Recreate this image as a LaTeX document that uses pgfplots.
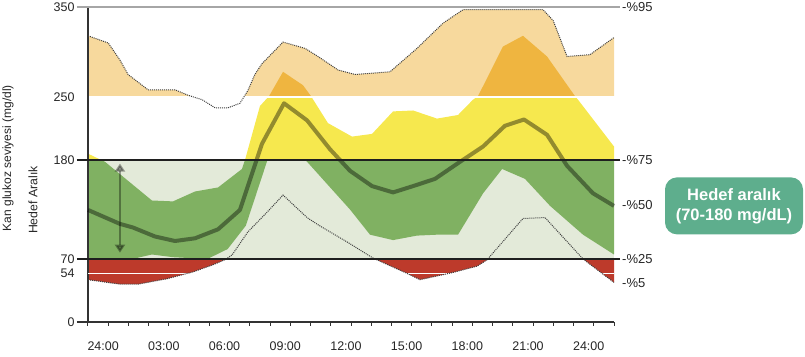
\documentclass[border=0pt]{standalone}
\usepackage{fontspec}
\setmainfont{Liberation Sans}
\usepackage{pgfplots}
\usepackage{pgfplotstable}
\pgfplotsset{compat=1.18}
\usepgfplotslibrary{fillbetween}
\usetikzlibrary{arrows.meta}

\definecolor{lorange}{HTML}{F7D99D}
\definecolor{dorange}{HTML}{EFB540}
\definecolor{yel}{HTML}{F6E84E}
\definecolor{lgreen}{HTML}{E3EAD9}
\definecolor{grn}{HTML}{80B162}
\definecolor{rd}{HTML}{BD3A2B}
\definecolor{boxgreen}{HTML}{5EAE8D}

\pgfplotstableread{
x y
0 318
1.0 310
1.58 291
1.98 275
2.97 258
4.3 258
4.94 252
5.64 247
6.28 238
6.92 238
7.51 243
7.9 257
8.25 275
8.6 287
9.64 311
10.73 304
11.37 295
12.36 280
13.2 275
14.93 278
16.26 304
17.55 332
18.54 347
22.49 347
22.99 335
23.68 295
24.81 297
26 316
}\pninetyfive

\pgfplotstableread{
x y
0 187
0.84 178
3.16 135
4.2 134
5.29 145
6.43 149.5
7.61 170
7.76 180
8.5 240
8.95 251
9.64 278
10.63 263
11.02 251
11.86 221
13.05 206
14.04 209
15.08 234
16.07 235
17.25 226
18.29 230
19.03 247
19.28 251
20.51 306
21.5 318
22.69 295
24.07 251
24.22 247
26 195
}\pseventyfive

\pgfplotstableread{
x y
0 124.5
1.58 109
2.22 105
3.31 95
4.3 90
5.29 93
6.43 103
7.51 124.5
8.6 198
9.69 243
10.83 224
11.96 192
12.95 168
14.04 151
15.08 144
16.07 151
17.15 159
18.39 178
19.53 195
20.61 218
21.55 225
22.69 208
23.68 173.5
24.96 143
26 129
}\pfifty

\pgfplotstableread{
x y
0 66
2.0 69
3.16 75
4.2 72
5.9 70
6.9 81
7.8 107
8.9 182
9.64 196
10.3 188
10.83 178
12.95 125
13.94 97
15.08 91
16.26 96
17.25 97
18.29 97
19.53 143
20.47 170
21.6 159
22.84 129
24.47 97
26 75
}\ptwentyfive

\pgfplotstableread{
x y
0 47
1.58 42
2.47 42
3.9 48
5.19 55.6
6.18 63.6
6.77 69.2
7.12 74.4
7.9 100
8.85 122
9.64 141
10.83 116
11.37 108
12.95 87
14.09 71
14.29 69
15.77 54
16.41 47
18.04 55
19.23 62
19.72 69
21.5 115
22.59 116
24.47 70
26 44
}\pfive

\pgfplotsset{band/.style={width=526pt, scale only axis, xmin=0, xmax=26, hide axis, anchor=south west}}

\begin{document}
\begin{tikzpicture}
% ---- target range 70-180: background and 25-75 band
\begin{axis}[band, ymin=70, ymax=180, height=99pt, at={(0,63pt)}]
\addplot[draw=none, name path=alo] coordinates {(0,60) (26,60)};
\addplot[draw=none, name path=ahi] coordinates {(0,190) (26,190)};
\addplot[draw=none, name path=a75] table {\pseventyfive};
\addplot[draw=none, name path=a25] table {\ptwentyfive};
\addplot[fill=lgreen, draw=none] fill between[of=ahi and alo];
\addplot[fill=grn, draw=none] fill between[of=a75 and a25];
\end{axis}
% ---- band: above 250
\begin{axis}[band, ymin=251.5, ymax=350, height=88.65pt, at={(0,226.35pt)}]
\addplot[draw=none, name path=b95] table {\pninetyfive};
\addplot[draw=none, name path=b75] table {\pseventyfive};
\addplot[draw=none, name path=b250] coordinates {(0,250) (26,250)};
\addplot[fill=lorange, draw=none] fill between[of=b95 and b250];
\addplot[fill=dorange, draw=none] fill between[of=b75 and b250];
\end{axis}
% ---- band: 180-250
\begin{axis}[band, ymin=180, ymax=248.5, height=61.65pt, at={(0,162pt)}]
\addplot[draw=none, name path=c75] table {\pseventyfive};
\addplot[draw=none, name path=c180] coordinates {(0,180) (26,180)};
\addplot[fill=yel, draw=none] fill between[of=c75 and c180];
\end{axis}
% ---- band: below 70
\begin{axis}[band, ymin=0, ymax=68.5, height=61.65pt, at={(0,0)}]
\addplot[draw=none, name path=d5] table {\pfive};
\addplot[draw=none, name path=d70] coordinates {(0,70) (26,70)};
\addplot[fill=rd, draw=none] fill between[of=d5 and d70];
\end{axis}

% ---- main axis
\begin{axis}[
  at={(0,0)}, anchor=south west,
  width=526pt, height=315pt, scale only axis,
  xmin=0, xmax=26, ymin=0, ymax=350,
  clip=false,
  axis lines*=left,
  axis line style={black!80, line width=1.2pt},
  xtick={0,...,26},
  xticklabels={24:00,,,03:00,,,06:00,,,09:00,,,12:00,,,15:00,,,18:00,,,21:00,,,24:00,,},
  xticklabel style={anchor=north west, xshift=-4pt, yshift=-12pt},
  ytick={0,54,70,180,250,350},
  ytick style={draw=none},
  yticklabel style={xshift=-6pt},
  xtick style={black!80, line width=1pt},
  tick align=outside,
  major tick length=4pt,
  tick label style={font=\fontsize{12.5}{14}\selectfont, text=black!85},
  /pgf/number format/assume math mode=true,
]
\addplot[white, line width=1.3pt] coordinates {(0,54) (26,54)};

% percentile lines
\addplot[black!75, densely dotted, line width=1pt] table {\pninetyfive};
\addplot[black!75, densely dotted, line width=1pt] table {\pfive};
\addplot[black, opacity=0.4, line width=4pt, line join=round] table {\pfifty};
\addplot[black, opacity=0.35, line width=2.5pt, {Triangle[width=10pt,length=8pt]}-{Triangle[width=10pt,length=8pt]}] coordinates {(1.58,77) (1.58,176)};

% reference lines
\draw[black!35, line width=1.5pt] ([xshift=-11pt]axis cs:0,350) -- ([xshift=6pt]axis cs:26,350);
\draw[black!88, line width=2.4pt] ([xshift=-11pt]axis cs:0,180) -- ([xshift=6pt]axis cs:26,180);
\draw[black!88, line width=2.4pt] ([xshift=-11pt]axis cs:0,70) -- ([xshift=6pt]axis cs:26,70);
\draw[black!80, line width=1.2pt] ([xshift=-11pt]axis cs:0,0) -- (axis cs:0,0);

% right labels
\begin{scope}[every node/.style={anchor=west, font=\fontsize{13}{15}\selectfont, text=black!85, inner sep=0pt}]
\node at ([xshift=8pt]axis cs:26,350) {-\%95};
\node at ([xshift=8pt]axis cs:26,180) {-\%75};
\node at ([xshift=8pt]axis cs:26,130) {-\%50};
\node at ([xshift=8pt]axis cs:26,70) {-\%25};
\node at ([xshift=8pt]axis cs:26,43) {-\%5};
\end{scope}

% left labels
\node[rotate=90, font=\fontsize{12}{14}\selectfont, text=black!85] at ([xshift=-80pt]axis cs:0,182) {Kan glukoz seviyesi (mg/dl)};
\node[rotate=90, font=\fontsize{12.3}{14}\selectfont, text=black!85] at ([xshift=-55pt]axis cs:0,135.5) {Hedef Aralık};

% box
\node[fill=boxgreen, rounded corners=12pt, minimum width=138pt, minimum height=57pt,
      text=white, align=center, font=\bfseries\fontsize{16.5}{20}\selectfont, inner sep=2pt]
  at ([xshift=120pt]axis cs:26,129) {Hedef aralık\\(70-180 mg/dL)};
\end{axis}
\pgfresetboundingbox
\path ([xshift=-88pt,yshift=-35pt]current axis.south west) rectangle ([xshift=191pt,yshift=7pt]current axis.north east);
\end{tikzpicture}
\end{document}
